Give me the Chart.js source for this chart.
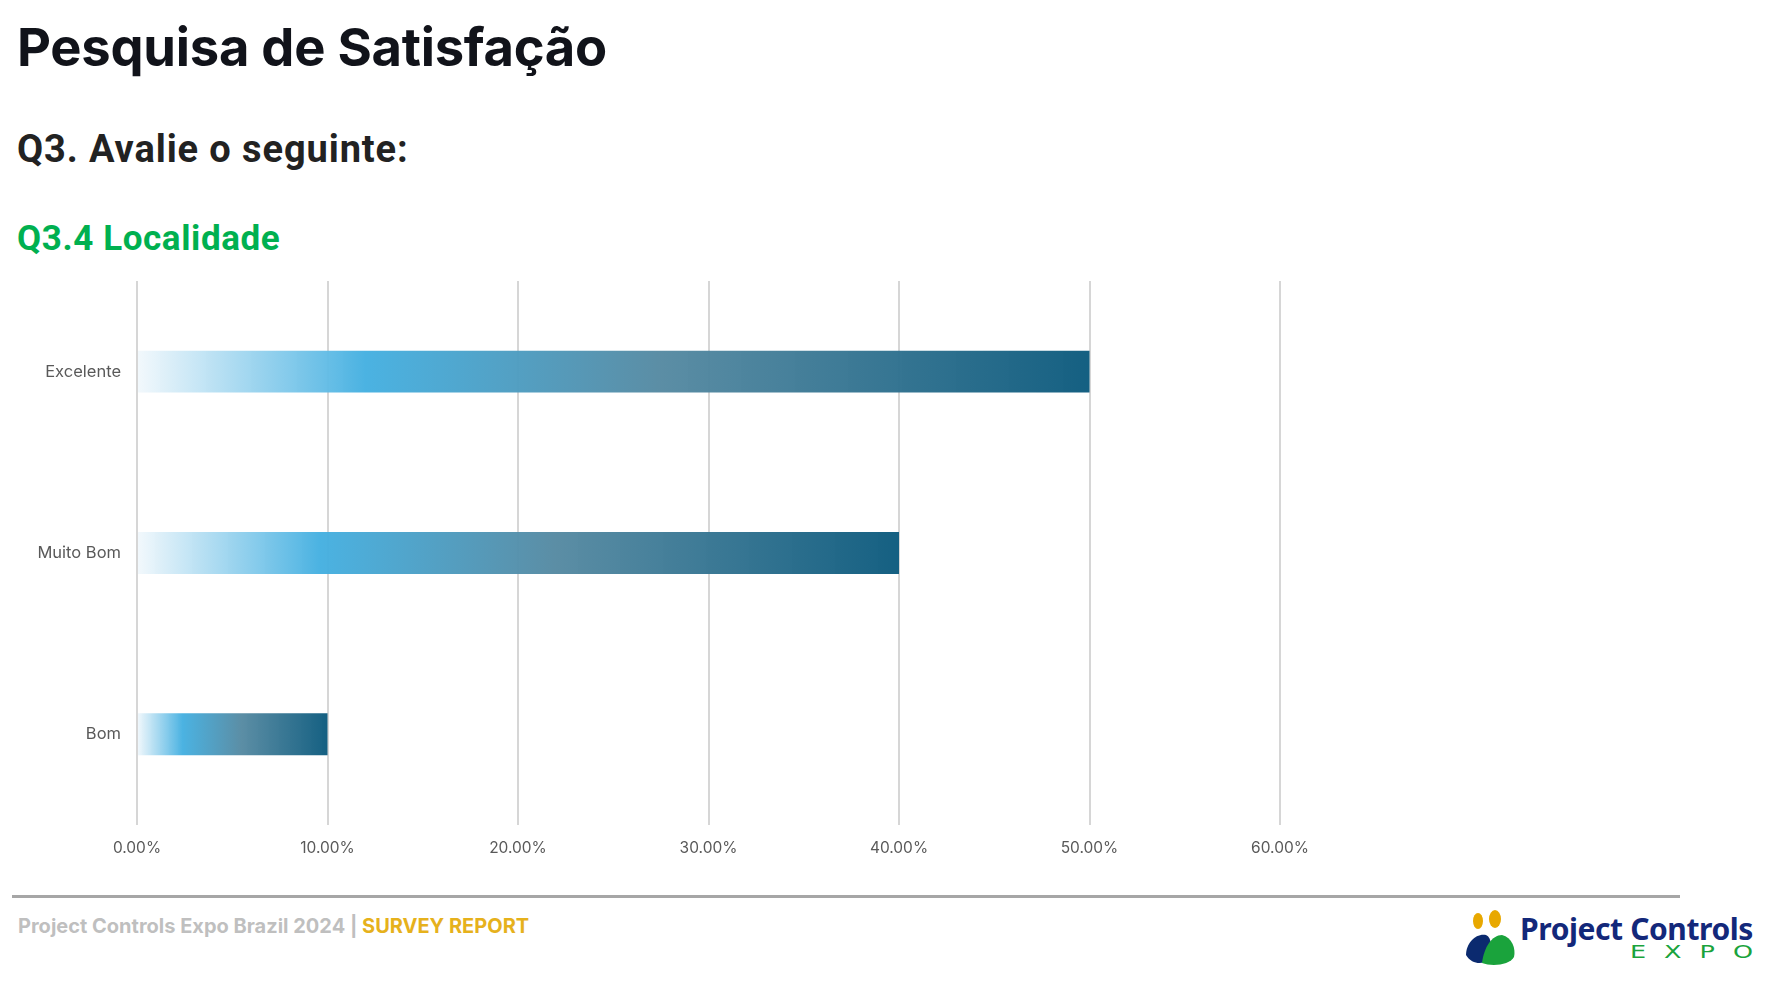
<!DOCTYPE html>
<html lang="pt">
<head>
<meta charset="utf-8">
<title>Pesquisa de Satisfação</title>
<script src="https://cdn.jsdelivr.net/npm/chart.js@4.4.1/dist/chart.umd.min.js"></script>
<style>
  html, body { margin: 0; padding: 0; background: #fff; }
  body { width: 1766px; height: 1006px; position: relative; overflow: hidden; font-family: Inter, "Noto Sans", sans-serif; }
  #title { position: absolute; left: 17px; top: 15px; margin: 0; font: 700 52.5px Inter, sans-serif; color: #11131a; letter-spacing: -0.25px; white-space: nowrap; }
  #question { position: absolute; left: 17px; top: 127px; margin: 0; font: 700 38px Roboto, sans-serif; color: #222; letter-spacing: 0.9px; white-space: nowrap; }
  #subtitle { position: absolute; left: 17px; top: 218px; margin: 0; font: 700 35px Roboto, sans-serif; color: #00b050; letter-spacing: 0.6px; white-space: nowrap; }
  #chartBox { position: absolute; left: 0; top: 263px; width: 1330px; height: 607px; }
  #rule { position: absolute; left: 12px; top: 895px; width: 1668px; height: 3px; background: #a6a6a6; }
  #footer { position: absolute; left: 18px; top: 914px; font: 700 20px Inter, sans-serif; color: #bfbfbf; white-space: nowrap; }
  #footer span { color: #e6b11c; }
  #logo { position: absolute; left: 1462px; top: 909px; width: 304px; height: 60px; }
  #logoText { position: absolute; left: 58px; top: -1px; font: 700 30px "Noto Sans", sans-serif; color: #13287a; white-space: nowrap; letter-spacing: -0.4px; }
  #logoExpo { position: absolute; left: 168px; top: 33px; font: 400 17px "DejaVu Sans", sans-serif; color: #1aa33c; letter-spacing: 12px; white-space: nowrap; transform: scaleX(1.5); transform-origin: left top; }
</style>
</head>
<body>
<h1 id="title">Pesquisa de Satisfação</h1>
<h2 id="question">Q3. Avalie o seguinte:</h2>
<h3 id="subtitle">Q3.4 Localidade</h3>
<div id="chartBox"><canvas id="surveyChart"></canvas></div>
<div id="rule"></div>
<div id="footer">Project Controls Expo Brazil 2024 | <span>SURVEY REPORT</span></div>
<div id="logo">
  <svg width="60" height="60" viewBox="0 0 60 60" style="position:absolute;left:0;top:0">
    <ellipse cx="16" cy="12" rx="5" ry="8" fill="#e8a800"/>
    <ellipse cx="33" cy="10" rx="6" ry="9" fill="#e8a800"/>
    <path d="M4 46 C4 34 14 24 24 26 C30 28 30 40 26 50 C22 56 10 56 4 46 Z" fill="#0b2a6f"/>
    <path d="M20 54 C22 38 30 26 40 26 C50 28 54 40 52 48 C48 56 30 58 20 54 Z" fill="#1aa33c"/>
  </svg>
  <div id="logoText">Project Controls</div>
  <div id="logoExpo">EXPO</div>
</div>
<script>
// Q3.4 Localidade - share of answers
const categories = ['Excelente', 'Muito Bom', 'Bom'];
const shares = [50, 40, 10];
const axisMax = 60;
const axisStep = 10;

function barGradient(c) {
    const chart = c.chart;
    if (!chart.chartArea || c.raw == null) return '#156082';
    const xs = chart.scales.x;
    const x0 = xs.getPixelForValue(0);
    const x1 = xs.getPixelForValue(c.raw);
    const g = chart.ctx.createLinearGradient(x0, 0, x1, 0);
    g.addColorStop(0, 'rgba(242,248,252,0.95)');
    g.addColorStop(0.24, 'rgba(69,176,225,0.97)');
    g.addColorStop(0.55, 'rgba(86,138,162,0.97)');
    g.addColorStop(1, 'rgba(21,96,130,1)');
    return g;
}

window.onload = function() {
    const ctx = document.getElementById('surveyChart').getContext('2d');
    new Chart(ctx, {
        type: 'bar',
        data: {
            labels: categories,
            datasets: [{
                data: shares,
                backgroundColor: barGradient,
                borderWidth: 0,
                barPercentage: 0.462,
                categoryPercentage: 0.5
            }]
        },
        options: {
            indexAxis: 'y',
            responsive: true,
            maintainAspectRatio: false,
            animation: false,
            layout: { padding: { left: 0, top: 17, right: 50, bottom: 5 } },
            plugins: {
                legend: { display: false },
                tooltip: { enabled: false }
            },
            scales: {
                x: {
                    min: 0,
                    max: axisMax,
                    ticks: {
                        stepSize: axisStep,
                        padding: 14,
                        color: '#595959',
                        font: { family: 'Inter', size: 15.5 },
                        callback: v => v.toFixed(2) + '%'
                    },
                    grid: { color: '#d6d6d6', lineWidth: 2, drawTicks: false },
                    border: { display: false },
                    afterFit: s => { s.height = 40; }
                },
                y: {
                    ticks: {
                        padding: 8,
                        color: '#595959',
                        font: { family: 'Inter', size: 16.5 }
                    },
                    grid: { display: false },
                    border: { display: false },
                    afterFit: s => { s.width = 137; }
                }
            }
        }
    });
};
</script>
</body>
</html>
